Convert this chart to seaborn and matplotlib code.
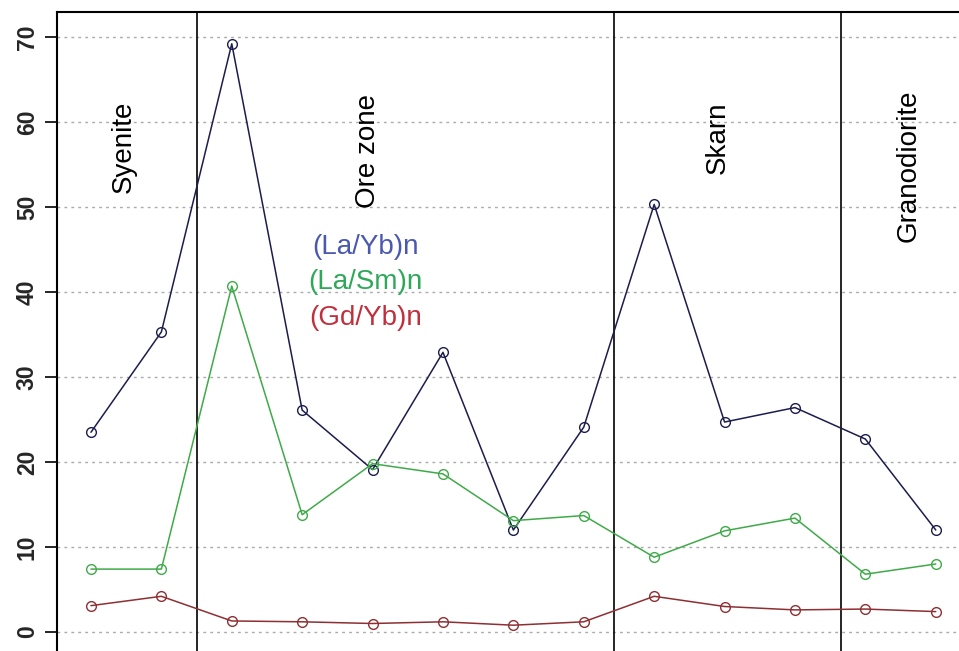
import matplotlib
matplotlib.use("Agg")
import matplotlib.pyplot as plt
import seaborn as sns
import numpy as np
import pandas as pd

# Sample sequence along the profile
samples = list(range(1, 14))

la_yb = [23.5, 35.3, 69.2, 26.1, 19.1, 32.9, 12.0, 24.1, 50.3, 24.7, 26.4, 22.7, 12.0]
la_sm = [7.4, 7.4, 40.7, 13.8, 19.8, 18.6, 13.1, 13.7, 8.8, 11.9, 13.4, 6.8, 8.0]
gd_yb = [3.1, 4.2, 1.3, 1.2, 1.0, 1.2, 0.8, 1.2, 4.2, 3.0, 2.6, 2.7, 2.4]

series_names = ["(La/Yb)n", "(La/Sm)n", "(Gd/Yb)n"]
line_colors = ["#1c1c4e", "#3faa48", "#8e2f33"]
text_colors = ["#4a58b0", "#2fa85a", "#c0303c"]

zones = ["Syenite", "Ore zone", "Skarn", "Granodiorite"]
zone_label_x = [1.47, 4.93, 9.9, 12.61]
zone_label_y = [57.1, 56.6, 58.1, 54.8]
zone_bounds = [2.5, 8.43, 11.65]

y_ticks = [0, 10, 20, 30, 40, 50, 60, 70]

sns.set_theme(style="white")
plt.rcParams["font.family"] = ["Liberation Sans", "DejaVu Sans"]

fig = plt.figure(figsize=(9.59, 6.51), dpi=100)
ax = fig.add_axes([0.0594, 0.0, 1 - 0.0594, 0.9816])

df = pd.DataFrame({"sample": samples * 3,
                   "value": la_yb + la_sm + gd_yb,
                   "ratio": np.repeat(series_names, len(samples))})

for name, lc in zip(series_names, line_colors):
    sub = df[df["ratio"] == name]
    sns.lineplot(data=sub, x="sample", y="value", ax=ax, color=lc, lw=1.1,
                 marker="o", markersize=7, markerfacecolor="none",
                 markeredgecolor=lc, markeredgewidth=1.0, legend=False)

# horizontal dotted grid
for t in y_ticks:
    ax.axhline(t, color="#aaaaaa", lw=1.0, ls=(0, (2, 3)), zorder=0)

# zone boundaries
for xb in zone_bounds:
    ax.axvline(xb, color="black", lw=1.2, zorder=1)

for z, zx, zy in zip(zones, zone_label_x, zone_label_y):
    ax.text(zx, zy, z, rotation=90, ha="center", va="center",
            fontsize=20, color="black")

# series labels
lab_x = 4.9
for name, tc, ly in zip(series_names, text_colors, [45.3, 41.2, 36.9]):
    ax.text(lab_x, ly, name, ha="center", va="center", fontsize=20, color=tc)

ax.set_xlim(0.517, 13.33)
ax.set_ylim(-2.235, 72.94)
ax.set_yticks(y_ticks)
ax.set_yticklabels([str(t) for t in y_ticks], rotation=90, va="center",
                   fontsize=16.5, fontweight="bold")
ax.set_xticks([])
ax.set_xlabel("")
ax.set_ylabel("")
ax.tick_params(axis="y", direction="out", length=9, width=1.2, color="black",
               left=True, pad=4)
for side in ["right", "bottom"]:
    ax.spines[side].set_visible(False)
for side in ["left", "top"]:
    ax.spines[side].set_visible(True)
    ax.spines[side].set_color("black")
    ax.spines[side].set_linewidth(1.5)

fig.savefig("out.png", dpi=100)
